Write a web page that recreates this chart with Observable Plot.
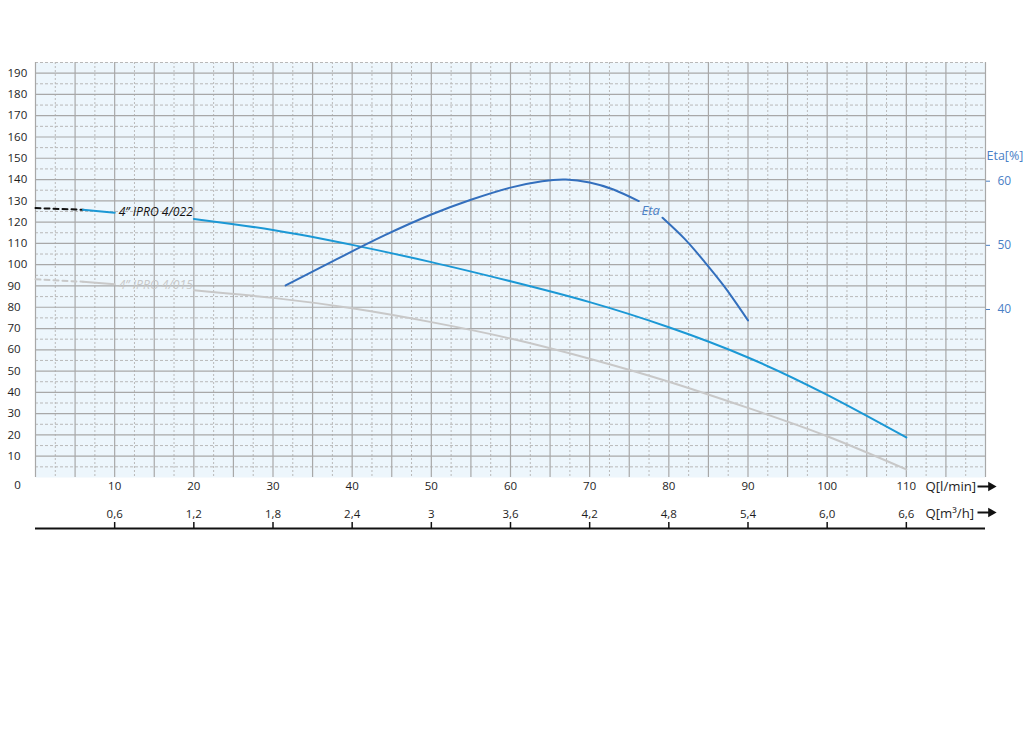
<!DOCTYPE html>
<html>
<head>
<meta charset="utf-8">
<script src="https://cdn.jsdelivr.net/npm/d3@7"></script>
<script src="https://cdn.jsdelivr.net/npm/@observablehq/plot@0.6"></script>
<style>
  html, body { margin: 0; padding: 0; background: #ffffff; }
  #wrap { position: relative; width: 1024px; height: 731px; }
  #wrap > svg { position: absolute; left: 0; top: 0; }
</style>
</head>
<body>
<div id="wrap"></div>
<script>
// ---- data ----
const qFlow = [0, 6, 10, 20, 30, 40, 50, 60, 70, 80, 90, 100, 110];          // Q [l/min]
const head022 = [126.6, 125.8, 124.4, 121.5, 116.3, 109.3, 101.2, 92.2, 82.4, 70.6, 56.4, 38.8, 18.8];
const head015 = [93.1, 92.0, 90.8, 88.0, 84.4, 79.5, 73.0, 65.3, 55.8, 45.0, 32.7, 19.4, 3.8];
const qEta = [31.6, 38, 44, 50, 55, 60, 64, 67, 70, 73, 76.2, 79.2, 82, 84.4, 87, 90];
const etaVal = [43.75, 47.8, 51.5, 54.8, 57.1, 59.0, 60.0, 60.25, 59.8, 58.7, 56.9, 54.3, 51.0, 47.6, 43.6, 38.3];
const qTicks = [10, 20, 30, 40, 50, 60, 70, 80, 90, 100, 110];
const m3hTicks = ["0,6", "1,2", "1,8", "2,4", "3", "3,6", "4,2", "4,8", "5,4", "6,0", "6,6"];
const hTicks = [10, 20, 30, 40, 50, 60, 70, 80, 90, 100, 110, 120, 130, 140, 150, 160, 170, 180, 190];
const etaTicks = [40, 50, 60];
const seriesNames = ["4” IPRO 4/022", "4” IPRO 4/015"];
const axisTitles = ["Q[l/min]", "Q[m³/h]"];

// ---- layout ----
const W = 1024, H = 731;
const M = {top: 62, right: 39, bottom: 254, left: 35};
const xDomain = [0, 120], yDomain = [0, 195], etaDomain = [13.81, 78.5];
const FONT = "'Open Sans', sans-serif";
const C022 = "#1b98d5", C015 = "#c8c8c8", CETA = "#336fbd", CETATXT = "#4a80c6";
const GRID = "#a8a8a8", GRIDDOT = "#b9b9b9", TXT = "#1e1e1e";

const pts = (qs, hs) => qs.map((q, i) => ({q, h: hs[i]}));
const p022 = pts(qFlow, head022), p015 = pts(qFlow, head015);
const pEta = qEta.map((q, i) => ({q, e: etaVal[i]}));

const solidX = d3.range(0, 121, 5), dotX = d3.range(2.5, 120, 5);
const solidY = d3.range(10, 195, 10), dotY = d3.range(5, 196, 10);
const pxPerUnitY = (H - M.top - M.bottom) / (yDomain[1] - yDomain[0]);
const pxPerUnitX = (W - M.left - M.right) / (xDomain[1] - xDomain[0]);
const qAt = px => (px - M.left) / pxPerUnitX;   // layout helper: pixel column -> Q units

// arrow glyph (line + solid head) placed after each axis title
const arrowMarks = (dy) => [
  Plot.link([0], {x1: qAt(977), x2: qAt(989), y1: 0, y2: 0, dy, stroke: "#111", strokeWidth: 2}),
  Plot.dot([0], {x: qAt(990.5), y: 0, dy, symbol: "triangle", rotate: 90, r: 3.6, fill: "#111", stroke: "none"})
];

const main = Plot.plot({
  width: W, height: H,
  marginTop: M.top, marginRight: M.right, marginBottom: M.bottom, marginLeft: M.left,
  x: {domain: xDomain, axis: null},
  y: {domain: yDomain, axis: null},
  style: {fontFamily: FONT, background: "transparent"},
  marks: [
    Plot.frame({fill: "#edf6fc", stroke: "none"}),
    Plot.ruleX(dotX, {stroke: GRIDDOT, strokeWidth: 1, strokeDasharray: "2,2"}),
    Plot.ruleY(dotY, {stroke: GRIDDOT, strokeWidth: 1, strokeDasharray: "3,2"}),
    Plot.ruleX(solidX, {stroke: GRID, strokeWidth: 1.2}),
    Plot.ruleY(solidY, {stroke: GRID, strokeWidth: 1.2}),
    // 4/015 curve
    Plot.line(p015.filter(d => d.q <= 6), {x: "q", y: "h", stroke: C015, strokeWidth: 2, strokeDasharray: "5,4"}),
    Plot.line(p015.filter(d => d.q >= 6 && d.q <= 10), {x: "q", y: "h", stroke: C015, strokeWidth: 2}),
    Plot.line(p015.filter(d => d.q >= 20), {x: "q", y: "h", stroke: C015, strokeWidth: 2, curve: "natural"}),
    // 4/022 curve
    Plot.line(p022.filter(d => d.q <= 6), {x: "q", y: "h", stroke: "#111", strokeWidth: 2, strokeDasharray: "5,4"}),
    Plot.line(p022.filter(d => d.q >= 6 && d.q <= 10), {x: "q", y: "h", stroke: C022, strokeWidth: 2}),
    Plot.line(p022.filter(d => d.q >= 20), {x: "q", y: "h", stroke: C022, strokeWidth: 2, curve: "natural"}),
    // curve labels
    Plot.text([seriesNames[0]], {x: 10.5, y: 124.6, text: d => d, textAnchor: "start", fill: "#111", fontSize: 12.2, fontStyle: "italic"}),
    Plot.text([seriesNames[1]], {x: 10.5, y: 90.3, text: d => d, textAnchor: "start", fill: C015, fontSize: 12.2, fontStyle: "italic"}),
    // left tick labels
    Plot.text(hTicks, {frameAnchor: "left", y: d => d, text: d => String(d), dx: -28, textAnchor: "start", fill: TXT, fontSize: 11.5}),
    Plot.text(["0"], {frameAnchor: "bottom-left", text: d => d, dx: -18, dy: 8, textAnchor: "middle", lineAnchor: "middle", fill: TXT, fontSize: 11.5}),
    // Q [l/min] axis labels
    Plot.text(qTicks, {x: d => d, y: 0, text: d => String(d), dy: 9, fill: TXT, fontSize: 11.5}),
    Plot.text([axisTitles[0]], {frameAnchor: "bottom-right", text: d => d, dx: -60, dy: 9, textAnchor: "start", lineAnchor: "middle", fill: TXT, fontSize: 13.2}),
    ...arrowMarks(9),
    // Q [m3/h] axis
    Plot.ruleY([0], {dy: 51, stroke: "#111", strokeWidth: 2}),
    Plot.ruleX(qTicks, {y1: 0, y2: 6 / pxPerUnitY, dy: 51, stroke: "#111", strokeWidth: 1.5}),
    Plot.text(qTicks, {x: d => d, y: 0, text: (d, i) => m3hTicks[i], dy: 37, fill: TXT, fontSize: 11.5}),
    Plot.text([axisTitles[1]], {frameAnchor: "bottom-right", text: d => d, dx: -60, dy: 36, textAnchor: "start", lineAnchor: "middle", fill: TXT, fontSize: 13.2}),
    ...arrowMarks(35)
  ]
});

const etaPlot = Plot.plot({
  width: W, height: H,
  marginTop: M.top, marginRight: M.right, marginBottom: M.bottom, marginLeft: M.left,
  x: {domain: xDomain, axis: null},
  y: {domain: etaDomain, axis: null},
  style: {fontFamily: FONT, background: "transparent"},
  marks: [
    Plot.line(pEta.filter(d => d.q <= 76.2), {x: "q", y: "e", stroke: CETA, strokeWidth: 2, curve: "natural"}),
    Plot.line(pEta.filter(d => d.q >= 79.2), {x: "q", y: "e", stroke: CETA, strokeWidth: 2, curve: "natural"}),
    Plot.text(["Eta"], {x: 77.7, y: 55.4, text: d => d, fill: CETATXT, fontSize: 13, fontStyle: "italic"}),
    Plot.axisY(etaTicks, {anchor: "right", label: null, tickSize: 4, tickPadding: 8, stroke: CETATXT, fill: CETATXT, fontSize: 12, textAnchor: "start"}),
    Plot.text(["Eta[%]"], {frameAnchor: "right", y: 64, text: d => d, dx: 1, textAnchor: "start", fill: CETATXT, fontSize: 12.5})
  ]
});

const wrap = document.getElementById("wrap");
wrap.appendChild(main);
wrap.appendChild(etaPlot);
</script>
</body>
</html>
